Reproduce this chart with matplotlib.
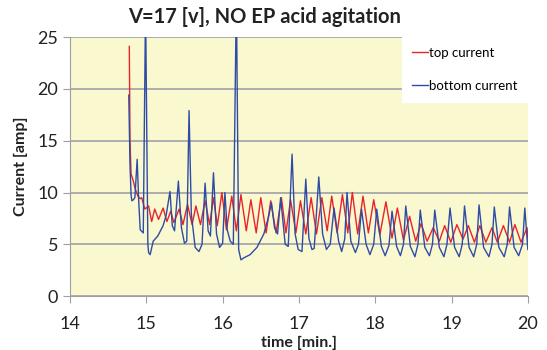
import matplotlib
matplotlib.use("Agg")
import matplotlib.pyplot as plt

# values (time in min, current in amp)
top_t = [14.777, 14.786, 14.80, 14.83, 14.85, 14.89, 14.92, 14.94, 14.98, 15.03,
         15.07, 15.11, 15.16, 15.22, 15.27, 15.32, 15.36, 15.43, 15.48, 15.54,
         15.60, 15.65, 15.71, 15.77, 15.83, 15.88, 15.93, 15.99, 16.05, 16.12,
         16.18, 16.24, 16.31, 16.37, 16.44, 16.50, 16.57, 16.63, 16.70, 16.77,
         16.83, 16.89, 16.96, 17.02, 17.09, 17.16, 17.23, 17.30, 17.37, 17.43,
         17.50, 17.57, 17.64, 17.70, 17.77, 17.84, 17.91, 17.98, 18.06, 18.14,
         18.22, 18.29, 18.37, 18.45, 18.53, 18.60, 18.68, 18.76, 18.84, 18.91,
         18.99, 19.07, 19.15, 19.22, 19.30, 19.37, 19.45, 19.53, 19.60, 19.68,
         19.76, 19.83, 19.91, 19.99, 20.0]
top_i = [24.1, 15.0, 11.8, 11.1, 10.45, 9.65, 9.4, 9.5, 8.4, 8.7,
         7.2, 8.4, 7.4, 8.5, 7.2, 8.2, 7.1, 8.4, 6.9, 8.85,
         6.9, 8.7, 6.9, 9.2, 6.9, 9.5, 6.8, 10.0, 6.4, 9.65,
         6.3, 9.8, 6.3, 9.3, 6.1, 9.5, 6.1, 9.2, 6.1, 9.5,
         6.1, 9.3, 6.1, 9.2, 6.0, 9.5, 6.0, 9.5, 6.3, 9.65,
         6.1, 9.8, 6.1, 10.0, 6.0, 9.65, 6.1, 9.3, 5.9, 9.1,
         5.6, 8.5, 5.4, 7.7, 5.3, 7.0, 5.3, 6.6, 5.3, 6.8,
         5.2, 6.9, 5.5, 6.8, 5.2, 6.8, 5.2, 6.6, 5.2, 6.8,
         5.2, 6.9, 5.2, 6.6, 5.4]

bot_t = [14.77, 14.786, 14.80, 14.81, 14.83, 14.85, 14.88, 14.90, 14.92, 14.96,
         14.99, 15.02, 15.03, 15.05, 15.09, 15.15, 15.22, 15.26, 15.31, 15.34,
         15.37, 15.42, 15.46, 15.50, 15.53, 15.56, 15.59, 15.64, 15.69, 15.73,
         15.77, 15.81, 15.84, 15.88, 15.92, 15.96, 16.00, 16.03, 16.06, 16.10,
         16.14, 16.18, 16.21, 16.24, 16.28, 16.36, 16.45, 16.54, 16.60, 16.64,
         16.68, 16.72, 16.76, 16.82, 16.86, 16.91, 16.95, 16.99, 17.04, 17.09,
         17.13, 17.17, 17.20, 17.26, 17.31, 17.36, 17.41, 17.46, 17.52, 17.56,
         17.60, 17.63, 17.68, 17.74, 17.78, 17.82, 17.88, 17.93, 17.98, 18.02,
         18.08, 18.13, 18.18, 18.22, 18.28, 18.33, 18.37, 18.40, 18.46, 18.52,
         18.56, 18.59, 18.65, 18.71, 18.75, 18.78, 18.84, 18.90, 18.94, 18.98,
         19.04, 19.10, 19.14, 19.17, 19.23, 19.29, 19.33, 19.36, 19.42, 19.49,
         19.53, 19.56, 19.62, 19.69, 19.73, 19.76, 19.82, 19.88, 19.93, 19.96,
         20.0]
bot_i = [19.4, 12.7, 9.8, 9.2, 9.3, 9.5, 13.2, 9.2, 6.4, 6.1,
         28.0, 5.0, 4.2, 4.0, 5.3, 5.8, 6.8, 7.8, 10.1, 6.8,
         6.3, 11.1, 6.6, 5.1, 5.3, 17.9, 7.9, 4.7, 4.3, 5.0,
         10.9, 6.3, 5.8, 11.9, 6.0, 4.7, 5.1, 10.0, 6.4, 5.3,
         5.0, 29.0, 4.5, 3.5, 3.7, 4.0, 4.7, 6.0, 7.6, 9.0,
         6.6, 6.0, 9.5, 5.0, 4.8, 13.7, 6.0, 4.5, 4.3, 11.3,
         5.6, 4.5, 4.6, 11.5, 6.0, 4.5, 5.0, 8.5, 5.3, 4.3,
         5.5, 10.0, 5.3, 4.2, 5.0, 8.4, 5.0, 4.0, 5.0, 8.4,
         4.8, 3.9, 4.9, 8.2, 4.8, 3.9, 5.0, 8.7, 4.8, 3.8,
         5.0, 8.3, 4.7, 3.9, 5.0, 8.3, 4.7, 3.8, 5.0, 8.5,
         4.7, 3.8, 5.0, 8.7, 4.7, 3.8, 5.0, 8.8, 4.7, 3.8,
         5.0, 8.6, 4.7, 3.8, 5.0, 8.6, 4.7, 3.9, 5.0, 8.5,
         4.5]

plt.rcParams["font.family"] = ["Lato", "DejaVu Sans"]

fig = plt.figure(figsize=(5.47, 3.5), dpi=100)
ax = fig.add_axes([0.128, 0.154, 0.837, 0.740])
ax.set_facecolor("#FAF8CE")

ax.plot(top_t, top_i, color="#E8232B", lw=1.0, label="top current", zorder=3)
ax.plot(bot_t, bot_i, color="#2E4CA6", lw=1.0, label="bottom current", zorder=4)

ax.set_xlim(14, 20)
ax.set_ylim(0, 25)
ax.set_xticks(range(14, 21))
ax.set_yticks(range(0, 26, 5))
ax.yaxis.grid(True, color="#A0A0A8", lw=1.2)
ax.set_axisbelow(True)
for s in ["top", "right"]:
    ax.spines[s].set_visible(False)
ax.spines["left"].set_color("#A0A0A0")
ax.spines["bottom"].set_color("#A0A0A0")
ax.tick_params(colors="#A0A0A0", labelcolor="#222222", labelsize=13, length=5)
ax.tick_params(axis="x", pad=9)

fig.text(0.483, 0.952, "V=17 [v], NO EP acid agitation", fontsize=14.5,
         fontweight="bold", color="#222222", ha="center", va="center")
ax.set_xlabel("time [min.]", fontsize=11.5, fontweight="bold", color="#222222", labelpad=3)
ax.set_ylabel("Current [amp]", fontsize=11.5, fontweight="bold", color="#222222", labelpad=7)

leg = ax.legend(loc="upper right", frameon=True, fontsize=9.5, handlelength=1.2,
                handletextpad=0.1, labelspacing=1.6, borderpad=0.75,
                borderaxespad=0, fancybox=False)
leg.get_frame().set_edgecolor("white")
leg.get_frame().set_facecolor("white")
leg.get_frame().set_alpha(1)

fig.savefig("out.png", dpi=100)
